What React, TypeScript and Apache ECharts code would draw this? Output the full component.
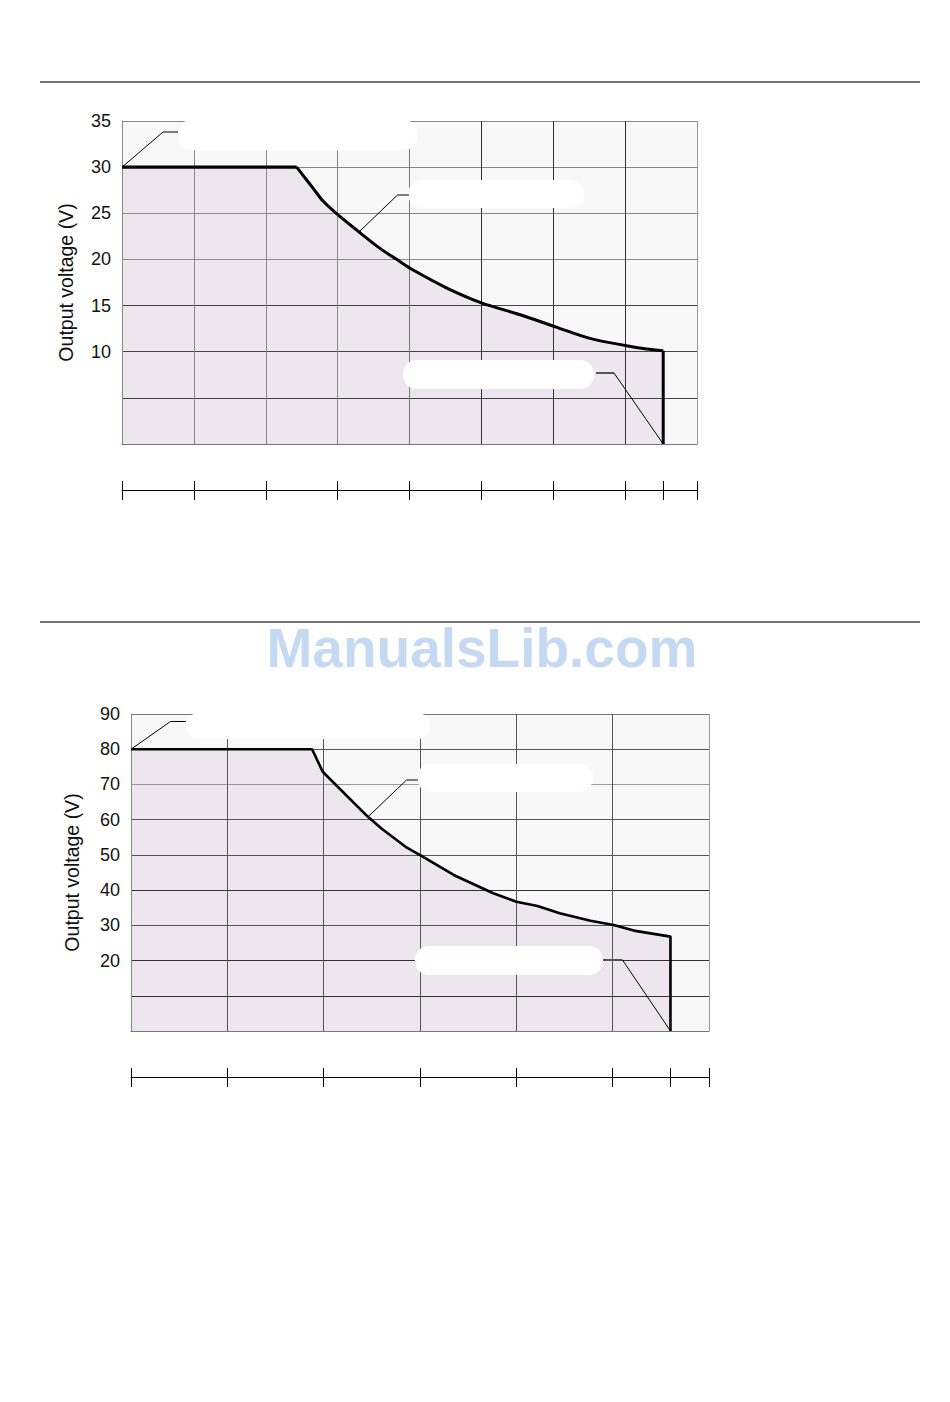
import React, { useEffect, useRef } from "react";
import * as echarts from "echarts";

const FONT = "'Liberation Sans', Arial, Helvetica, sans-serif";

// ---- Chart 1 (upper) ----
const c1Current = [0, 2.43, 2.55, 2.66, 2.8, 3.01, 3.31, 3.59, 3.87, 4.05, 4.52, 5.0, 5.54, 6.03, 6.51, 7.02, 7.3, 7.53, 7.53];
const c1Voltage = [30, 30, 28.8, 27.7, 26.3, 24.8, 22.9, 21.2, 19.75, 18.85, 16.9, 15.3, 14.0, 12.7, 11.45, 10.65, 10.3, 10.1, 0];
const c1XMax = 8;
const c1YMax = 35;
const c1YStep = 5;
const c1YLabelMin = 10;
const c1BottomTicks = [0, 1, 2, 3, 4, 5, 6, 7, 7.53, 8];

// ---- Chart 2 (lower) ----
const c2Current = [0, 1.88, 1.99, 2.25, 2.46, 2.6, 2.85, 3.01, 3.35, 3.76, 4.0, 4.22, 4.45, 4.77, 5.01, 5.22, 5.6, 5.6];
const c2Voltage = [80, 80, 73.6, 66.5, 60.8, 57.5, 52.3, 49.8, 44.3, 39.1, 36.7, 35.5, 33.4, 31.3, 30.1, 28.5, 26.8, 0];
const c2XMax = 6;
const c2YMax = 90;
const c2YStep = 10;
const c2YLabelMin = 20;
const c2BottomTicks = [0, 1, 2, 3, 4, 5, 5.6, 6];

const yTitle = "Output voltage (V)";
const watermark = "ManualsLib.com";

const AREA = "#ede6ef";
const BG = "#f8f8f8";

function zip(xs: number[], ys: number[]) {
  return xs.map((x, i) => [x, ys[i]]);
}

function buildAxes(g: number, xMax: number, yMax: number, yStep: number, labelMin: number, ticks: number[], nameGap: number, vColors: string[], hColors: string[]) {
  const xs = [
    {
      type: "value", gridIndex: g, min: 0, max: xMax, interval: 1, z: 3,
      axisLine: { show: true, lineStyle: { color: "#777", width: 1 } },
      axisTick: { show: false }, axisLabel: { show: false },
      splitLine: { show: true, lineStyle: { color: vColors, width: 1 } },
    },
    {
      type: "value", gridIndex: g, min: 0, max: xMax, position: "bottom", offset: 46, z: 3,
      axisLine: { show: true, onZero: false, lineStyle: { color: "#000", width: 1 } },
      axisTick: { show: true, inside: true, length: 9, customValues: ticks, lineStyle: { color: "#000", width: 1 } },
      axisLabel: { show: false }, splitLine: { show: false },
    },
    {
      type: "value", gridIndex: g, min: 0, max: xMax, position: "bottom", offset: 46, z: 3,
      axisLine: { show: false, onZero: false },
      axisTick: { show: true, inside: false, length: 10, customValues: ticks, lineStyle: { color: "#000", width: 1 } },
      axisLabel: { show: false }, splitLine: { show: false },
    },
  ];
  const y = {
    type: "value", gridIndex: g, min: 0, max: yMax, interval: yStep, z: 3,
    name: yTitle, nameLocation: "middle", nameGap, nameRotate: 90,
    nameTextStyle: { fontFamily: FONT, fontSize: 19.5, color: "#111" },
    axisLine: { show: true, lineStyle: { color: "#888", width: 1 } },
    axisTick: { show: false },
    axisLabel: {
      show: true, margin: 11, fontFamily: FONT, fontSize: 18, color: "#111",
      formatter: (v: number) => (v >= labelMin ? String(v) : ""),
    },
    splitLine: { show: true, lineStyle: { color: hColors, width: 1 } },
  };
  return { xs, y };
}

export default function App() {
  const ref = useRef<HTMLDivElement>(null);

  useEffect(() => {
    if (!ref.current) return;
    const chart = echarts.init(ref.current, undefined, { renderer: "svg" });

    const a1 = buildAxes(0, c1XMax, c1YMax, c1YStep, c1YLabelMin, c1BottomTicks, 46.5,
      ["#888", "#888", "#888", "#888", "#777", "#333", "#333", "#333", "#999"],
      ["#888", "#444", "#444", "#444", "#888", "#888", "#888", "#888"]);
    const a2 = buildAxes(1, c2XMax, c2YMax, c2YStep, c2YLabelMin, c2BottomTicks, 49,
      ["#666", "#555", "#555", "#555", "#555", "#555", "#999"],
      ["#888", "#333", "#333", "#555", "#333", "#555", "#555", "#999", "#555", "#777"]);

    const d1 = zip(c1Current, c1Voltage);
    const d2 = zip(c2Current, c2Voltage);
    // chart 1 outline split into flat part, smooth power-limited curve and vertical drop
    const n1 = d1.length;
    const d1Flat = d1.slice(0, 2);
    const d1Curve = d1.slice(1, n1 - 1);
    const d1Drop = d1.slice(n1 - 2);

    const lineSeries = (xi: number, yi: number, data: number[][], width: number, smooth: number | boolean = false) => ({
      type: "line", xAxisIndex: xi, yAxisIndex: yi, data, symbol: "none", z: 5, smooth,
      lineStyle: { color: "#000", width },
    });

    const option: any = {
      animation: false,
      grid: [
        { left: 122, top: 121, width: 575, height: 323, show: true, backgroundColor: BG, borderWidth: 0 },
        { left: 131, top: 714, width: 578, height: 317, show: true, backgroundColor: BG, borderWidth: 0 },
      ],
      xAxis: [...a1.xs, ...a2.xs],
      yAxis: [a1.y, a2.y],
      series: [
        { type: "line", xAxisIndex: 0, yAxisIndex: 0, data: d1, symbol: "none", z: 1,
          lineStyle: { width: 0, opacity: 0 }, areaStyle: { color: AREA, opacity: 1 } },
        lineSeries(0, 0, d1Flat, 3.4),
        lineSeries(0, 0, d1Curve, 3, 0.3),
        lineSeries(0, 0, d1Drop, 3),
        { type: "line", xAxisIndex: 3, yAxisIndex: 1, data: d2, symbol: "none", z: 1,
          lineStyle: { width: 0, opacity: 0 }, areaStyle: { color: AREA, opacity: 1 } },
        lineSeries(3, 1, d2, 2.6),
      ],
    };
    chart.setOption(option);

    const px = (g: number, v: number[]) =>
      chart.convertToPixel({ xAxisIndex: g * 3, yAxisIndex: g } as any, v) as number[];

    const line = (pts: number[][], color = "#000", width = 1) => ({
      type: "polyline", z: 120, shape: { points: pts },
      style: { stroke: color, lineWidth: width, fill: null },
    });
    const box = (x: number, y: number, w: number, h: number, r: number) => ({
      type: "rect", z: 110, shape: { x, y, width: w, height: h, r },
      style: { fill: "#fff", stroke: null },
    });

    const c1a = px(0, [c1Current[0], c1Voltage[0]]);
    const c1b = px(0, [3.3, 23.0]);
    const c1c = px(0, [c1Current[c1Current.length - 1], 0]);
    const c2a = px(1, [c2Current[0], c2Voltage[0]]);
    const c2b = px(1, [2.46, 60.8]);
    const c2c = px(1, [c2Current[c2Current.length - 1], 0]);

    chart.setOption({
      graphic: [
        { type: "line", z: 120, shape: { x1: 40, y1: 82, x2: 920, y2: 82 }, style: { stroke: "#444", lineWidth: 1.6 } },
        { type: "line", z: 120, shape: { x1: 40, y1: 622, x2: 920, y2: 622 }, style: { stroke: "#444", lineWidth: 1.6 } },
        {
          type: "text", z: 120, x: 482, y: 648,
          style: { text: watermark, fill: "#c6d9f2", font: `bold 55px ${FONT}`, textAlign: "center", textVerticalAlign: "middle" },
        },
        // chart 1 annotation boxes & leaders
        box(178, 119.5, 239, 31, 14),
        box(408, 180, 176, 28, 14),
        box(403, 360, 191, 29, 14),
        line([c1a, [163, 132], [178, 132]]),
        line([c1b, [397.5, 195], [409, 195]]),
        line([[596, 373], [614, 373]], "#555", 2),
        line([[614, 373], c1c]),
        // chart 2 annotation boxes & leaders
        box(186, 713, 244, 26, 12),
        box(417, 764, 176, 28, 14),
        box(415, 946, 188, 29, 14),
        line([c2a, [170.5, 721.5], [186, 721.5]]),
        line([c2b, [406.5, 780], [418, 780]]),
        line([[603, 960], [622.5, 960]], "#555", 2),
        line([[622.5, 960], c2c]),
      ],
    });

    return () => chart.dispose();
  }, []);

  return (
    <div
      ref={ref}
      style={{ position: "absolute", left: 0, top: 0, width: 950, height: 1402, background: "#fff" }}
    />
  );
}
